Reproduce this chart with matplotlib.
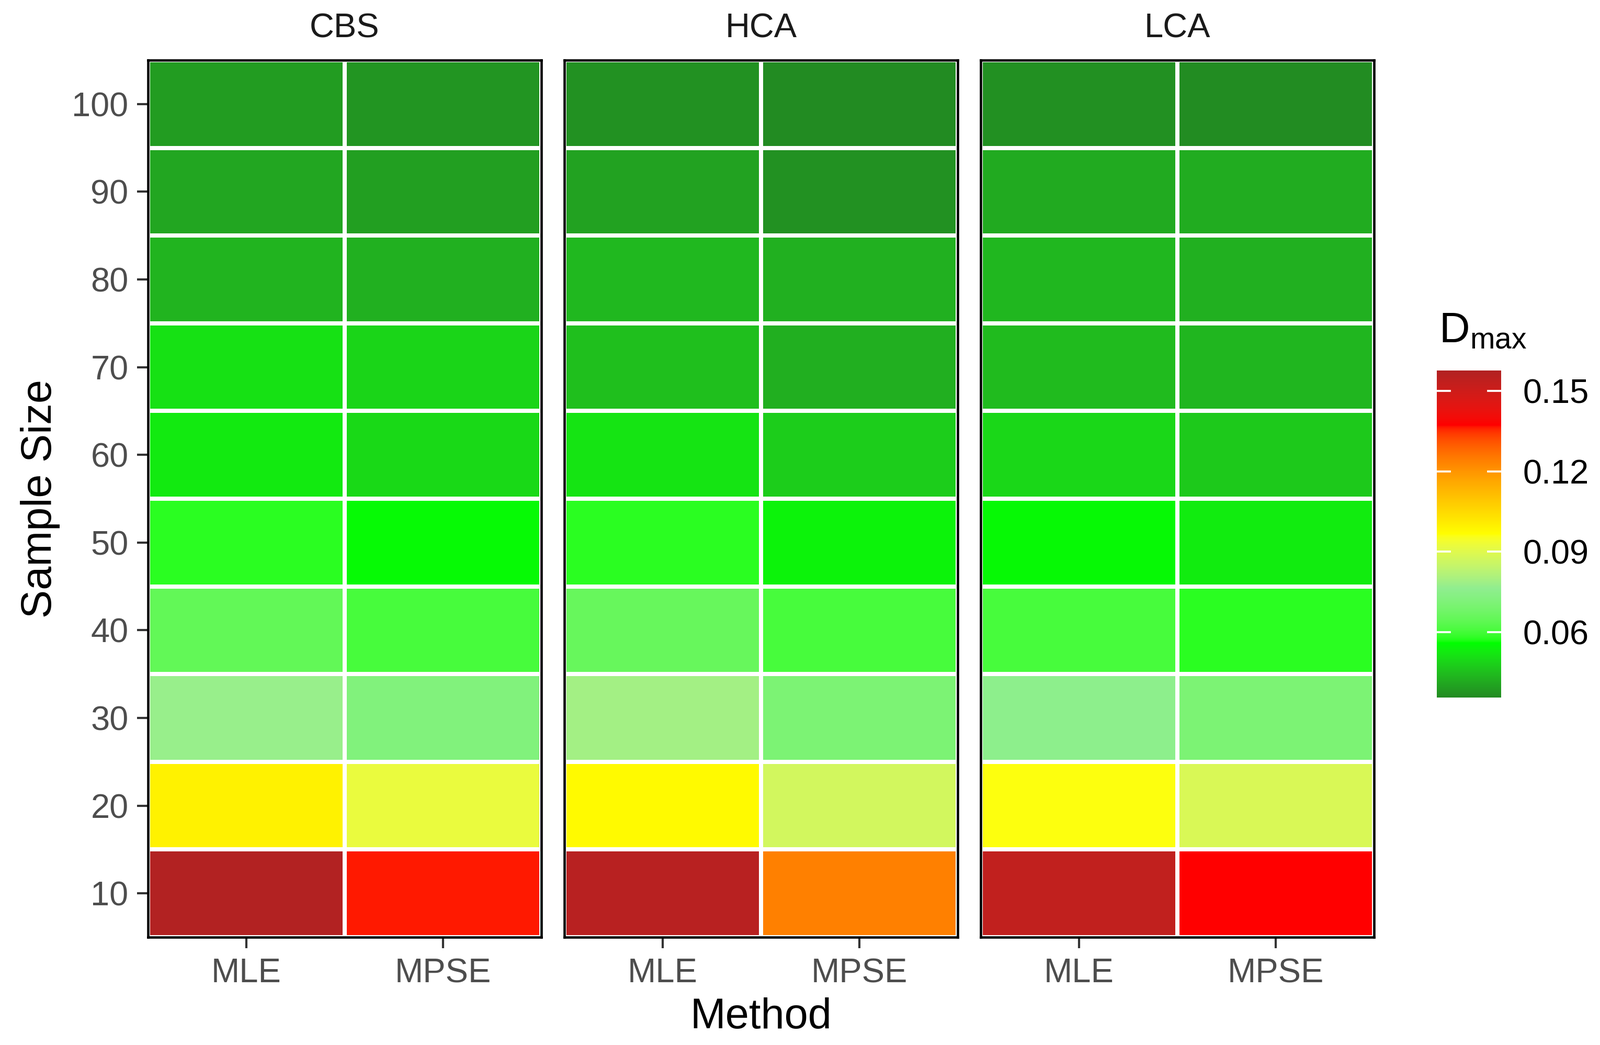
import numpy as np
import matplotlib
matplotlib.use("Agg")
import matplotlib.pyplot as plt
from matplotlib.colors import ListedColormap, Normalize, to_rgb

plt.rcParams['font.family'] = ['Liberation Sans', 'DejaVu Sans']
plt.rcParams['mathtext.fontset'] = 'custom'
plt.rcParams['mathtext.rm'] = 'Liberation Sans'
plt.rcParams['mathtext.it'] = 'Liberation Sans'

# ---- data ----
panels = ["CBS", "HCA", "LCA"]
methods = ["MLE", "MPSE"]
sample_sizes = [10, 20, 30, 40, 50, 60, 70, 80, 90, 100]

cbs_mle  = [0.1576, 0.0996, 0.0774, 0.0646, 0.0576, 0.0525, 0.0509, 0.0430, 0.0407, 0.0389]
cbs_mpse = [0.1365, 0.0921, 0.0719, 0.0604, 0.0551, 0.0496, 0.0489, 0.0425, 0.0393, 0.0376]
hca_mle  = [0.1560, 0.0978, 0.0790, 0.0656, 0.0576, 0.0514, 0.0451, 0.0439, 0.0399, 0.0369]
hca_mpse = [0.1241, 0.0871, 0.0703, 0.0604, 0.0540, 0.0475, 0.0422, 0.0423, 0.0369, 0.0356]
lca_mle  = [0.1535, 0.0962, 0.0754, 0.0604, 0.0550, 0.0492, 0.0443, 0.0436, 0.0412, 0.0366]
lca_mpse = [0.1373, 0.0885, 0.0703, 0.0576, 0.0528, 0.0468, 0.0434, 0.0425, 0.0417, 0.0358]

panel_data = {
    "CBS": [cbs_mle, cbs_mpse],
    "HCA": [hca_mle, hca_mpse],
    "LCA": [lca_mle, lca_mpse],
}

legend_ticks = [0.06, 0.09, 0.12, 0.15]
gradient_colors = ["forestgreen", "#00FF00", "lightgreen", "yellow", "orange", "red", "firebrick"]


# ---- colour ramp interpolated in CIELAB (as ggplot2 does) ----
M = np.array([[0.4124, 0.3576, 0.1805], [0.2126, 0.7152, 0.0722], [0.0193, 0.1192, 0.9505]])
Minv = np.linalg.inv(M)
WP = np.array([0.95047, 1.0, 1.08883])


def _lin(c):
    return np.where(c <= 0.04045, c / 12.92, ((c + 0.055) / 1.055) ** 2.4)


def _gam(c):
    return np.where(c <= 0.0031308, 12.92 * c, 1.055 * np.clip(c, 0, None) ** (1 / 2.4) - 0.055)


def _f(t):
    d = 6 / 29
    return np.where(t > d ** 3, np.cbrt(t), t / (3 * d * d) + 4 / 29)


def _finv(t):
    d = 6 / 29
    return np.where(t > d, t ** 3, 3 * d * d * (t - 4 / 29))


def rgb2lab(rgb):
    xyz = _lin(np.asarray(rgb, float)) @ M.T / WP
    fx, fy, fz = _f(xyz[..., 0]), _f(xyz[..., 1]), _f(xyz[..., 2])
    return np.stack([116 * fy - 16, 500 * (fx - fy), 200 * (fy - fz)], -1)


def lab2rgb(lab):
    fy = (lab[..., 0] + 16) / 116
    fx = fy + lab[..., 1] / 500
    fz = fy - lab[..., 2] / 200
    xyz = np.stack([_finv(fx), _finv(fy), _finv(fz)], -1) * WP
    return np.clip(_gam(xyz @ Minv.T), 0, 1)


stop_lab = rgb2lab(np.array([to_rgb(c) for c in gradient_colors]))
g = np.linspace(0, 1, 1024)
stop_pos = np.linspace(0, 1, len(gradient_colors))
lab_ramp = np.stack([np.interp(g, stop_pos, stop_lab[:, k]) for k in range(3)], -1)
cmap = ListedColormap(lab2rgb(lab_ramp))

allv = np.array([v for p in panel_data.values() for s in p for v in s])
norm = Normalize(vmin=allv.min(), vmax=allv.max())

# ---- figure ----
W, H = 3059, 1997
dpi = 300
fig = plt.figure(figsize=(W / dpi, H / dpi), dpi=dpi)

lefts = [283, 1079, 1875]
pw = 752
ptop, pbot = 115, 1791
tick_color = "#333333"
label_color = "#4D4D4D"
fs_small = 15.6
fs_big = 19.5

for i, name in enumerate(panels):
    ax = fig.add_axes([lefts[i] / W, 1 - pbot / H, pw / W, (pbot - ptop) / H])
    Z = np.array(panel_data[name]).T
    xe = np.arange(len(methods) + 1) - 0.5
    ye = np.array(sample_sizes + [sample_sizes[-1] + 10]) - 5
    ax.pcolormesh(xe, ye, Z, cmap=cmap, norm=norm, edgecolors="white", linewidth=1.9)
    ax.set_xlim(-0.5, len(methods) - 0.5)
    ax.set_ylim(5, 105)
    ax.set_xticks(range(len(methods)))
    ax.set_xticklabels(methods)
    ax.set_yticks(sample_sizes)
    ax.set_yticklabels([str(s) for s in sample_sizes] if i == 0 else [])
    ax.tick_params(axis="both", colors=tick_color, labelcolor=label_color,
                   labelsize=fs_small, width=1.0, length=5)
    ax.tick_params(axis="x", pad=4.4)
    ax.tick_params(axis="y", pad=4.0)
    if i != 0:
        ax.tick_params(axis="y", length=0)
    for sp in ax.spines.values():
        sp.set_color("black")
        sp.set_linewidth(1.1)
        sp.set_zorder(5)
    fig.text((lefts[i] + pw / 2) / W, 1 - 55 / H, name, ha="center", va="center",
             fontsize=fs_small, color="#1A1A1A")

fig.text(1455 / W, 1 - 1944 / H, "Method", ha="center", va="center", fontsize=fs_big)
fig.text(77 / W, 1 - 953 / H, "Sample Size", ha="center", va="center",
         rotation=90, fontsize=fs_big)

# ---- colour bar ----
cax = fig.add_axes([2747 / W, 1 - 1333 / H, 123 / W, 625 / H])
grad = np.linspace(norm.vmin, norm.vmax, 512).reshape(-1, 1)
cax.imshow(grad, aspect="auto", cmap=cmap, norm=norm, origin="lower",
           extent=[0, 1, norm.vmin, norm.vmax], interpolation="bilinear")
cax.set_xlim(0, 1)
cax.set_ylim(norm.vmin, norm.vmax)
for t in legend_ticks:
    cax.plot([0, 0.2], [t, t], color="white", lw=0.9)
    cax.plot([0.8, 1], [t, t], color="white", lw=0.9)
cax.set_xticks([])
cax.yaxis.tick_right()
cax.set_yticks(legend_ticks)
cax.set_yticklabels([f"{t:.2f}" for t in legend_ticks])
cax.tick_params(axis="y", length=0, labelsize=fs_small, pad=10, labelcolor="black")
for sp in cax.spines.values():
    sp.set_visible(False)
fig.text(2751 / W, 1 - 655 / H, r"$\mathrm{D}_{\mathrm{max}}$", ha="left", va="baseline",
         fontsize=fs_big)

fig.savefig("out.png", dpi=dpi)
